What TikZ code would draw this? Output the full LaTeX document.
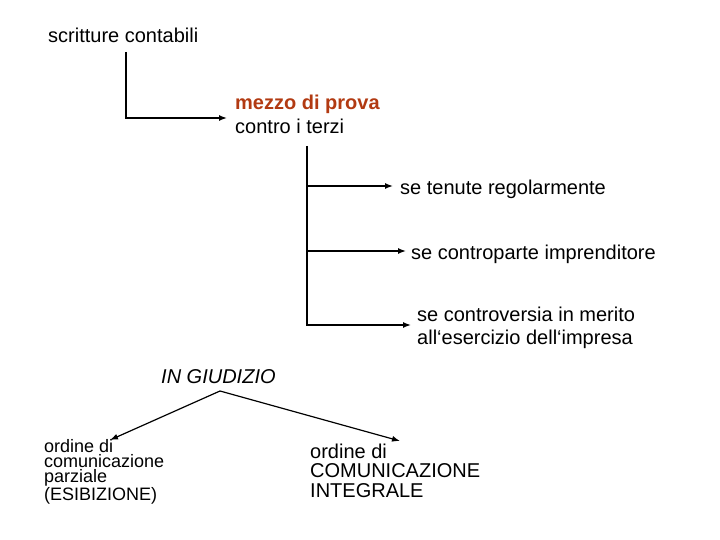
\documentclass[tikz,border=0pt]{standalone}
\usepackage{fontspec}
\setmainfont{Liberation Sans}
\usetikzlibrary{arrows.meta}
\definecolor{rust}{HTML}{B23A12}
\begin{document}
\begin{tikzpicture}[x=1pt,y=-1pt,
  lbl/.style={anchor=base west,inner sep=0pt,font=\fontsize{20}{24}\selectfont},
  con/.style={line width=1.4pt},
  arr/.style={con,-{Latex[length=8pt,width=6pt]}}]
\useasboundingbox (0,0) rectangle (720,540);
\node[lbl] (sc) at (48,43) {scritture contabili};
\node[lbl,text=rust,font=\bfseries\fontsize{20}{24}\selectfont] (mp) at (235,110) {mezzo di prova};
\node[lbl] (ct) at (235,134) {contro i terzi};
\node[lbl] (t1) at (400,195) {se tenute regolarmente};
\node[lbl] (t2) at (411,259) {se controparte imprenditore};
\node[lbl] (t3) at (417,321) {se controversia in merito};
\node[lbl] (t3b) at (417,344) {all‘esercizio dell‘impresa};
\node[lbl,font=\itshape\fontsize{20}{24}\selectfont] (ig) at (161,383) {IN GIUDIZIO};
\node[anchor=base west,inner sep=0pt,align=left,font=\fontsize{18}{14.8}\selectfont] (lp) at (44,500)
  {ordine di\\comunicazione\\parziale\\(ESIBIZIONE)};
\node[anchor=base west,inner sep=0pt,align=left,font=\fontsize{20}{19.5}\selectfont] (rp) at (310,497)
  {ordine di\\COMUNICAZIONE\\INTEGRALE};
% connectors
\coordinate (a0) at (126,52);
\coordinate (a1) at (227,118);
\draw[arr] (a0) |- (a1);
\coordinate (b0) at (307,146);
\coordinate (b1) at (307,186);
\coordinate (b2) at (307,251);
\coordinate (b3) at (307,325);
\coordinate (e1) at (393,186);
\coordinate (e2) at (406,251);
\coordinate (e3) at (411,325);
\draw[con] (b0) -- (b3);
\draw[arr] (b1) -- (e1);
\draw[arr] (b2) -- (e2);
\draw[arr] ([xshift=-0.7pt]b3) -- (e3);
\coordinate (g0) at (220,391);
\coordinate (gl) at (110,440);
\coordinate (gr) at (400,441);
\draw[arr,line width=1.2pt] (g0) -- (gl);
\draw[arr,line width=1.2pt] (g0) -- (gr);
\end{tikzpicture}
\end{document}
